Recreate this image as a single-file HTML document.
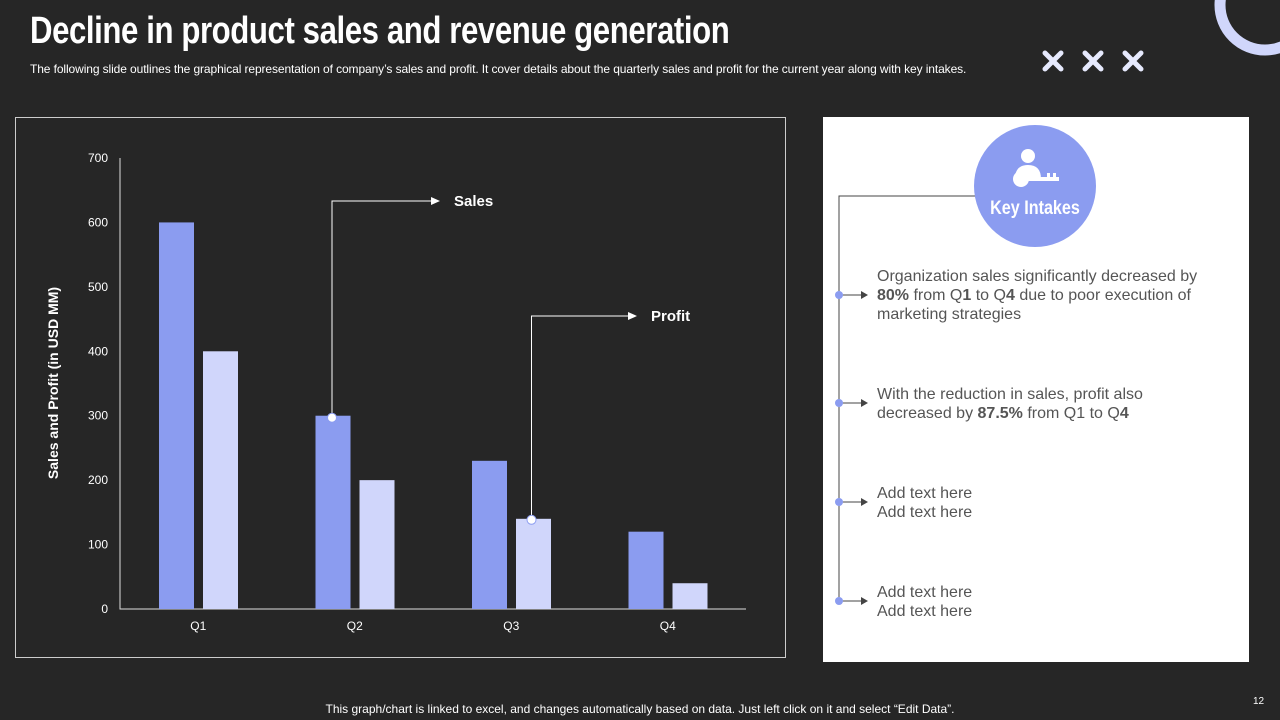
<!DOCTYPE html>
<html><head><meta charset="utf-8"><style>
body{margin:0;width:1280px;height:720px;background:#262626;overflow:hidden;font-family:"Liberation Sans",sans-serif;position:relative}
.abs{position:absolute}
#title{left:30px;top:10px;color:#fff;font-family:"Liberation Sans Narrow","Liberation Sans",sans-serif;font-weight:bold;font-size:38px;transform:scaleX(0.82);transform-origin:left top;letter-spacing:-0.5px;white-space:nowrap}
#sub{left:30px;top:62px;color:#fff;font-size:12px;white-space:nowrap;letter-spacing:-0.1px}
.note{color:#555;font-size:16px;line-height:19px}
</style></head><body>
<div id="title" class="abs">Decline in product sales and revenue generation</div>
<div id="sub" class="abs">The following slide outlines the graphical representation of company’s sales and profit. It cover details about the quarterly sales and profit for the current year along with key intakes.</div>
<svg class="abs" style="left:0;top:0" width="1280" height="720">
<circle cx="1265" cy="5" r="45" fill="none" stroke="#d0d6fb" stroke-width="11"/>
<g stroke="#e6e9fd" stroke-width="5" stroke-linecap="round">
<path d="M1045 53l16 16M1061 53l-16 16M1085 53l16 16M1101 53l-16 16M1125 53l16 16M1141 53l-16 16"/></g>
</svg>
<svg id="chart" class="abs" style="left:0;top:0" width="800" height="680">
<rect x="15.5" y="117.5" width="770" height="540" fill="none" stroke="#ccc" stroke-width="1"/>
<g id="g"></g>
</svg>
<div class="abs" style="left:823px;top:117px;width:426px;height:545px;background:#fff"></div>
<svg class="abs" style="left:823px;top:117px" width="426" height="545">
<path d="M153 79H16V484" fill="none" stroke="#444" stroke-width="1"/>
<circle cx="212" cy="69" r="61" fill="#8b9cf0"/>
<circle cx="205" cy="39" r="7" fill="#fff"/>
<path d="M192 62q0-14 13-14q13 0 13 14z" fill="#fff"/>
<circle cx="198" cy="62" r="8" fill="#fff"/><rect x="204" y="60" width="32" height="4" fill="#fff"/>
<rect x="224" y="56" width="3" height="5" fill="#fff"/><rect x="230" y="56" width="3" height="5" fill="#fff"/>
<text x="212" y="97" text-anchor="middle" fill="#fff" font-size="19" font-weight="bold" font-family="Liberation Sans Narrow,Liberation Sans,sans-serif" transform="translate(212 0) scale(0.85 1) translate(-212 0)">Key Intakes</text>
<g fill="#8b9cf0" stroke="#444" stroke-width="1">
<path d="M16 178H40M16 286H40M16 385H40M16 484H40"/>
<circle cx="16" cy="178" r="4" stroke="none"/><circle cx="16" cy="286" r="4" stroke="none"/><circle cx="16" cy="385" r="4" stroke="none"/><circle cx="16" cy="484" r="4" stroke="none"/></g>
<g fill="#444"><path d="M38 174l7 4-7 4zM38 282l7 4-7 4zM38 381l7 4-7 4zM38 480l7 4-7 4z"/></g>
</svg>
<div class="abs note" style="left:877px;top:267px;width:345px">Organization sales significantly decreased by <b>80%</b> from Q<b>1</b> to Q<b>4</b> due to poor execution of marketing strategies</div>
<div class="abs note" style="left:877px;top:385px;width:345px">With the reduction in sales, profit also decreased by <b>87.5%</b> from Q1 to Q<b>4</b></div>
<div class="abs note" style="left:877px;top:484px">Add text here<br>Add text here</div>
<div class="abs note" style="left:877px;top:583px">Add text here<br>Add text here</div>
<div class="abs" style="left:0;width:1280px;top:702px;text-align:center;color:#fff;font-size:12px">This graph/chart is linked to excel, and changes automatically based on data. Just left click on it and select “Edit Data”.</div>
<div class="abs" style="left:1253px;top:696px;color:#fff;font-size:10px">12</div>
<script>
const categories=["Q1","Q2","Q3","Q4"];
const sales=[600,300,230,120];
const profit=[400,200,140,40];
const yTicks=[0,100,200,300,400,500,600,700];
const NS="http://www.w3.org/2000/svg",g=document.getElementById('g');
const x0=120,x1=746,y0=609,y1=158,yMax=700,cw=(x1-x0)/categories.length;
const y=v=>y0-(v/yMax)*(y0-y1);
function mk(t,a,txt){const e=document.createElementNS(NS,t);for(const k in a)e.setAttribute(k,a[k]);if(txt!=null)e.textContent=txt;g.appendChild(e);return e;}
mk('path',{d:`M${x0} ${y1}V${y0}H${x1}`,stroke:'#ddd',fill:'none','stroke-width':1});
yTicks.forEach(v=>{const t=mk('text',{x:108,y:y(v)+4,'text-anchor':'end',fill:'#fff','font-size':12},v);

});
categories.forEach((c,i)=>{const cs=x0+i*cw;
const b=mk('rect',{x:cs+39,y:y(sales[i]),width:35,height:y0-y(sales[i]),fill:'#8b9cf0'});


const p=mk('rect',{x:cs+83,y:y(profit[i]),width:35,height:y0-y(profit[i]),fill:'#d0d6fb'});


const t=mk('text',{x:cs+cw/2,y:630,'text-anchor':'middle',fill:'#fff','font-size':12},c);

});
const yl=mk('text',{x:0,y:0,transform:`translate(58 383) rotate(-90)`,'text-anchor':'middle',fill:'#fff','font-size':14,'font-weight':'bold'},'Sales and Profit (in USD MM)');


function callout(cx,cy,ty,label,lx){const bx=cx;
mk('path',{d:`M${bx} ${cy}V${ty}H${lx-10}`,stroke:'#fff',fill:'none','stroke-width':1});
mk('path',{d:`M${lx-10} ${ty-4}l9 4-9 4z`,fill:'#fff'});
mk('circle',{cx:bx,cy:cy,r:4.5,fill:'#fff',stroke:'#8b9cf0'});
const t=mk('text',{x:lx+13,y:ty+5,fill:'#fff','font-size':15,'font-weight':'bold'},label);

}
callout(x0+cw+39+17.5-1,y(sales[1])+2,201,'Sales',441);
callout(x0+2*cw+83+17.5-2,y(profit[2])+1,316,'Profit',638);
</script>
</body></html>
